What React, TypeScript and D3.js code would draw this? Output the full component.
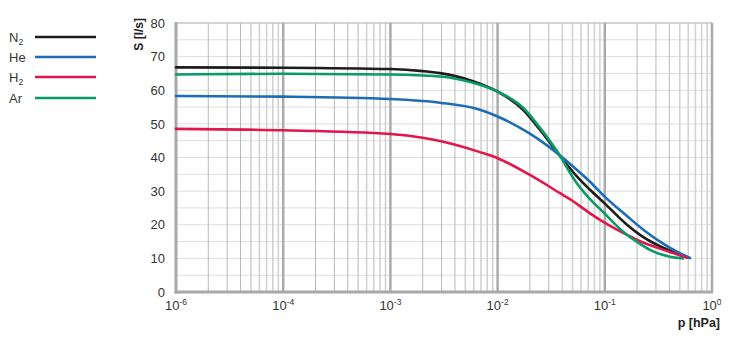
import React from "react";
import * as d3 from "d3";

const seriesNames = ["N", "He", "H", "Ar"];
const seriesSubs = ["2", "", "2", ""];
const seriesColors = ["#1d1d1b", "#1c6db5", "#e2164b", "#0a9a68"];

const n2: [number, number][] = [
  [1e-5, 66.8], [1e-4, 66.7], [1e-3, 66.3], [2e-3, 65.7], [2.9e-3, 65.1], [5.9e-3, 62.7],
  [0.01, 59.6], [0.0173, 54.2], [0.0249, 48.2], [0.0382, 40.5], [0.0551, 34.3],
  [0.0728, 30.4], [0.0985, 26.5], [0.161, 20.0], [0.213, 17.0], [0.327, 13.6],
  [0.433, 11.9], [0.6, 10.2],
];
const he: [number, number][] = [
  [1e-5, 58.3], [1e-4, 58.1], [1e-3, 57.4], [2.9e-3, 56.3], [6.85e-3, 54.2], [0.01, 52.2],
  [0.0195, 47.3], [0.0289, 43.6], [0.0382, 40.6], [0.0551, 36.3], [0.0728, 32.8],
  [0.0985, 28.5], [0.161, 22.6], [0.227, 18.6], [0.327, 15.0], [0.47, 12.0], [0.624, 10.1],
];
const h2: [number, number][] = [
  [1e-5, 48.5], [1e-4, 48.1], [1e-3, 47.0], [2e-3, 45.9], [2.9e-3, 44.9], [6.85e-3, 41.6],
  [0.01, 39.8], [0.02, 34.8], [0.0382, 29.4], [0.0473, 27.6], [0.0728, 23.4],
  [0.0985, 20.7], [0.161, 17.0], [0.213, 15.1], [0.327, 12.9], [0.433, 11.6], [0.585, 10.2],
];
const ar: [number, number][] = [
  [1e-5, 64.7], [1e-4, 64.9], [1e-3, 64.7], [2.9e-3, 64.1], [5.9e-3, 62.2], [0.01, 59.6],
  [0.0173, 54.8], [0.0249, 48.8], [0.0382, 40.5], [0.0505, 34.0], [0.0728, 27.6],
  [0.0985, 23.5], [0.13, 19.6], [0.161, 17.0], [0.213, 14.3], [0.264, 12.5],
  [0.406, 10.5], [0.535, 10.0],
];
const seriesData = [n2, he, h2, ar];

const xTickValues = [1e-5, 1e-4, 1e-3, 1e-2, 1e-1, 1];
const xTickExponents = ["-6", "-4", "-3", "-2", "-1", "0"];
const yTickValues = [0, 10, 20, 30, 40, 50, 60, 70, 80];

const W = 729;
const H = 343;
const left = 176;
const right = 712;
const top = 23;
const bottom = 292;
const font = "'Liberation Sans', Arial, Helvetica, sans-serif";

export default function App() {
  const x = d3.scaleLog().domain([1e-5, 1]).range([left, right]);
  const y = d3.scaleLinear().domain([0, 80]).range([bottom, top]);

  const minor: { v: number; k: number }[] = [];
  for (let e = -5; e < 0; e++) {
    for (let k = 2; k <= 9; k++) minor.push({ v: k * Math.pow(10, e), k });
  }
  const hGrid = d3.range(5, 80, 5);

  const line = d3
    .line<[number, number]>()
    .x((d) => x(d[0]))
    .y((d) => y(d[1]))
    .curve(d3.curveMonotoneX);

  return (
    <svg width={W} height={H} style={{ display: "block", position: "absolute", left: 0, top: 0 }} fontFamily={font}>
      <rect width={W} height={H} fill="#fff" />
      {hGrid.map((v) => (
        <line key={"h" + v} x1={left} x2={right} y1={y(v)} y2={y(v)} stroke="#dedede" strokeWidth={1} />
      ))}
      {minor.map((m, i) => (
        <line
          key={"m" + i}
          x1={x(m.v)}
          x2={x(m.v)}
          y1={top}
          y2={bottom}
          stroke={m.k <= 4 ? "#b8b8b8" : "#d2d2d2"}
          strokeWidth={m.k <= 4 ? 1 : 1.6}
        />
      ))}
      <line x1={left} x2={right} y1={top} y2={top} stroke="#c4c4c4" strokeWidth={1.5} />
      {xTickValues.slice(1).map((v, i) => (
        <line key={"M" + i} x1={x(v)} x2={x(v)} y1={top} y2={bottom} stroke="#ababab" strokeWidth={2.5} />
      ))}
      <line x1={left} x2={left} y1={top - 1} y2={bottom + 1.5} stroke="#a8a8a8" strokeWidth={3} />
      <line x1={left - 1.5} x2={right + 1} y1={bottom} y2={bottom} stroke="#a8a8a8" strokeWidth={3} />

      {seriesData.map((d, i) => (
        <path key={"s" + i} d={line(d) || ""} fill="none" stroke={seriesColors[i]} strokeWidth={2.6} strokeLinecap="round" />
      ))}

      {yTickValues.map((v) => (
        <text key={"y" + v} x={165} y={y(v)} dy="0.36em" textAnchor="end" fontSize={13} fill="#333">
          {v}
        </text>
      ))}
      {xTickValues.map((v, i) => (
        <text key={"x" + i} x={x(v)} y={310} textAnchor="middle" fontSize={13} fill="#333">
          10
          <tspan fontSize={8.5} dy={-5}>
            {xTickExponents[i]}
          </tspan>
        </text>
      ))}
      <text x={720} y={327} textAnchor="end" fontSize={12.5} fontWeight="bold" fill="#222">
        p [hPa]
      </text>
      <text transform="translate(143,18) rotate(-90)" textAnchor="end" fontSize={12} fontWeight="bold" fill="#222">
        S [l/s]
      </text>

      {seriesNames.map((n, i) => {
        const ly = [37, 57, 77, 98][i];
        return (
          <g key={"l" + i}>
            <text x={9} y={ly + 4.5} fontSize={13} fill="#333">
              {n}
              {seriesSubs[i] ? (
                <tspan fontSize={8.5} dy={3}>
                  {seriesSubs[i]}
                </tspan>
              ) : null}
            </text>
            <line x1={35} x2={96} y1={ly} y2={ly} stroke={seriesColors[i]} strokeWidth={2.6} />
          </g>
        );
      })}
    </svg>
  );
}
